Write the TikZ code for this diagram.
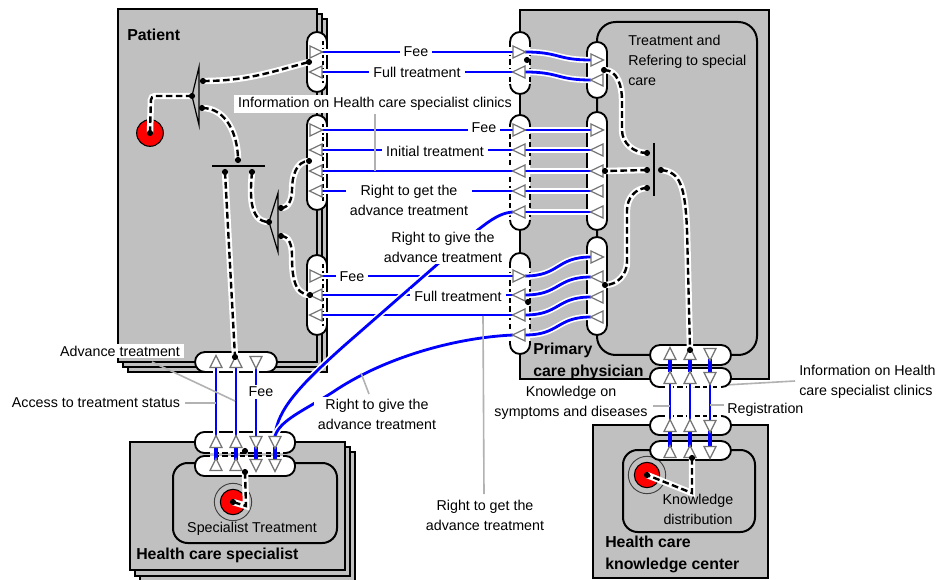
\documentclass[tikz,border=0pt]{standalone}
\usepackage{fontspec}
\setmainfont{Liberation Sans}
\definecolor{boxgray}{RGB}{192,192,192}
\definecolor{flowblue}{RGB}{0,0,255}
\definecolor{leadgray}{RGB}{178,178,178}
\newcommand\lbfont{\fontsize{10.7}{15}\selectfont}
\newcommand\bdfont{\fontsize{11.9}{16.5}\selectfont\bfseries}
\tikzset{
 box/.style={fill=boxgray,draw=black,line width=1.5pt},
 innerbox/.style={fill=boxgray,draw=black,line width=1.5pt,rounded corners=14pt},
 portline/.style={draw=black,line width=1.4pt},
 tri/.style={fill=white,draw=black!55,line width=0.9pt},
 flow/.style={draw=flowblue,line width=2.1pt,preaction={draw=white,line width=4.6pt}},
 shortflow/.style={draw=flowblue,line width=2.8pt},
 ctrl/.style={draw=black,line width=1.8pt,dash pattern=on 5pt off 2.5pt,preaction={draw=white,line width=4.8pt,solid}},
 leader/.style={draw=leadgray,line width=1.2pt},
 bar/.style={draw=black,line width=0.9pt},
 lbl/.style={font=\lbfont,inner sep=1.5pt,align=center},
 wlbl/.style={lbl,fill=white,inner xsep=3pt},
 blbl/.style={font=\bdfont,inner sep=1.5pt,align=left,anchor=west},
 tR/.pic={\draw[tri] (-6,-6) -- (6.5,0) -- (-6,6) -- cycle;},
 tL/.pic={\draw[tri] (6,-6) -- (-6.5,0) -- (6,6) -- cycle;},
 tU/.pic={\draw[tri] (-6,5.5) -- (0,-6.5) -- (6,5.5) -- cycle;},
 tD/.pic={\draw[tri] (-6,-5.5) -- (0,6.5) -- (6,-5.5) -- cycle;}
}
\newcommand\jdot[2]{\fill[black] (#1,#2) circle[radius=2.3pt];}
\newcommand\pport[4]{\draw[portline,fill=white,rounded corners=7.5pt] (#1,#2) rectangle (#3,#4);
 \draw[black,line width=1pt,dash pattern=on 3pt off 2pt] (#3-4,#2+9) -- (#3-4,#4-9);}
\newcommand\qport[4]{\fill[white,rounded corners=7.5pt] (#1,#2) rectangle (#3,#4);
 \draw[portline,rounded corners=7.5pt] (#1,#2+10) -- (#1,#2) -- (#3,#2) -- (#3,#2+10);
 \draw[portline,rounded corners=7.5pt] (#1,#4-10) -- (#1,#4) -- (#3,#4) -- (#3,#4-10);
 \draw[portline,dash pattern=on 4pt off 2.5pt] (#1,#2+10) -- (#1,#4-10) (#3,#2+10) -- (#3,#4-10);}
\newcommand\rport[4]{\draw[portline,fill=white,rounded corners=7.5pt] (#1,#2) rectangle (#3,#4);}
\newcommand\hpillDB[4]{\fill[white,rounded corners=7pt] (#1,#2) rectangle (#3,#4);
 \draw[portline,rounded corners=7pt] (#1+10,#4) -- (#1,#4) -- (#1,#2) -- (#3,#2) -- (#3,#4) -- (#3-10,#4);
 \draw[portline,dash pattern=on 4pt off 2.5pt] (#1+10,#4) -- (#3-10,#4);}
\newcommand\hpillDT[4]{\fill[white,rounded corners=7pt] (#1,#2) rectangle (#3,#4);
 \draw[portline,rounded corners=7pt] (#1+10,#2) -- (#1,#2) -- (#1,#4) -- (#3,#4) -- (#3,#2) -- (#3-10,#2);
 \draw[portline,dash pattern=on 4pt off 2.5pt] (#1+10,#2) -- (#3-10,#2);}
\begin{document}
\begin{tikzpicture}[x=0.75pt,y=-0.75pt]
\fill[white] (0,0) rectangle (938,580);
\useasboundingbox (0,0) rectangle (938,580);
% ---- participant boxes
\draw[box] (128,19) rectangle (327,372);
\draw[box] (123,14) rectangle (322,367);
\draw[box] (118,9) rectangle (317,362);
\draw[box] (140,452) rectangle (355,584);
\draw[box] (135,447) rectangle (350,576);
\draw[box] (130,442) rectangle (345,570);
\draw[innerbox,rounded corners=11pt] (173,463) rectangle (337,543);
\draw[box] (520,10) rectangle (769,379);
\draw[innerbox] (597,22) rectangle (757,355);
\draw[box] (593,425) rectangle (768,578);
\draw[innerbox,rounded corners=11pt] (623,450) rectangle (755,532);
% ---- activities (red)
\draw[fill=red,line width=0.8pt] (150,133) circle[radius=10pt];
\draw[black!75,line width=0.7pt] (233,502) circle[radius=14pt];
\draw[fill=red,line width=0.8pt] (233,502) circle[radius=9.5pt];
\draw[black!75,line width=0.7pt] (647,475) circle[radius=14pt];
\draw[fill=red,line width=0.8pt] (647,475) circle[radius=9.5pt];
% leader under port
\draw[leader] (795,381) -- (690,387);
% ---- ports
\pport{307}{32}{327}{92}
\pport{307}{115}{327}{210}
\pport{307}{255}{327}{335}
\qport{510}{32}{530}{94}
\qport{510}{115}{530}{230}
\qport{510}{253}{530}{354}
\rport{587}{42}{607}{98}
\rport{587}{112}{607}{230}
\rport{587}{237}{607}{335}
\draw[portline,fill=white,rounded corners=7.5pt] (195,352) rectangle (277,372);
\hpillDB{195}{432}{295}{453}
\hpillDT{195}{456}{295}{476}
\draw[portline,fill=white,rounded corners=7.5pt] (650,345) rectangle (731,365);
\hpillDB{650}{368}{731}{387}
\hpillDT{650}{416}{731}{435}
\draw[portline,fill=white,rounded corners=7.5pt] (650,441) rectangle (731,460);
% ---- flows
\foreach \y in {52,72,130,150,171,191,276,295,315} \draw[flow] (322,\y) -- (513,\y);
\draw[flow] (525,52) .. controls (560,52) and (556,60) .. (591,60);
\draw[flow] (525,72) .. controls (560,72) and (556,80) .. (591,80);
\foreach \y in {130,150,171,191,212} \draw[flow] (525,\y) -- (591,\y);
\draw[flow] (525,276) .. controls (560,276) and (556,257) .. (591,257);
\draw[flow] (525,295) .. controls (560,295) and (556,277) .. (591,277);
\draw[flow] (525,315) .. controls (560,315) and (556,297) .. (591,297);
\draw[flow] (525,335) .. controls (560,335) and (556,317) .. (591,317);
\draw[flow] (513,212) .. controls (495,213) and (480,228) .. (440,262) -- (345,345) .. controls (300,385) and (277,410) .. (275,436);
\draw[flow] (513,335) .. controls (450,338) and (380,360) .. (333,392) .. controls (305,410) and (280,420) .. (275,436);
\foreach \x in {216,236,256} \draw[flow] (\x,367) -- (\x,437);
\foreach \x in {216,236,256,275} \draw[shortflow] (\x,447) -- (\x,460);
\foreach \x in {670,690,710} {\draw[shortflow] (\x,359) -- (\x,372); \draw[flow] (\x,383) -- (\x,421); \draw[shortflow] (\x,431) -- (\x,447);}
% ---- leaders
\draw[leader] (375,114) -- (375,171);
\draw[leader] (483,316) -- (484,494);
\draw[leader] (152,362) -- (235,401);
\draw[leader] (185,403) -- (216,403);
\draw[leader] (361,373) -- (369,394);
\draw[leader] (653,406) -- (670,406);
\draw[leader] (710,405) -- (724,405);
% ---- control (dashed) links
\draw[ctrl,rounded corners=3pt] (150,133) -- (151,96) -- (192,96);
\draw[ctrl] (203,81) to[out=0,in=195] (309,62);
\draw[ctrl] (202,108) to[out=0,in=90] (238,160);
\draw[ctrl] (225,172) -- (235,357);
\draw[ctrl] (252,172) to[out=-95,in=180] (269,222);
\draw[ctrl] (281,208) to[out=0,in=-90] (292,190) to[out=90,in=180] (309,161);
\draw[ctrl] (281,236) to[out=0,in=90] (292,255) to[out=-90,in=180] (310,295);
\draw[ctrl] (604,70) to[out=0,in=90] (622,100) -- (622,130) to[out=-90,in=180] (647,153);
\draw[ctrl] (647,170) -- (605,171);
\draw[ctrl] (647,188) to[out=180,in=90] (627,210) -- (627,262) to[out=-90,in=0] (605,285);
\draw[ctrl] (661,170) .. controls (680,172) and (685,185) .. (687,230) -- (690,350);
\draw[ctrl] (245,472) -- (246,506) -- (233,502);
\draw[ctrl] (692,458) -- (692,493) -- (647,475);
% ---- forks / joins
\draw[bar] (199,67) -- (192,96) -- (199,125) -- cycle;
\draw[bar] (278,193) -- (269,222) -- (278,252) -- cycle;
\draw[bar] (212,166) -- (265,166);
\draw[bar] (654,143) -- (654,196);
% ---- triangles
\pic at (316,52) {tR}; \pic at (316,72) {tL};
\pic at (316,130) {tR};
\foreach \y in {150,171,191} \pic at (316,\y) {tL};
\pic at (316,276) {tR}; \pic at (316,295) {tL}; \pic at (316,315) {tL};
\pic at (519,52) {tR}; \pic at (519,72) {tL};
\pic at (519,130) {tR};
\foreach \y in {150,171,191,212} \pic at (519,\y) {tL};
\pic at (519,276) {tR};
\foreach \y in {295,315,335} \pic at (519,\y) {tL};
\pic at (597,60) {tR}; \pic at (597,80) {tL};
\pic at (597,130) {tR};
\foreach \y in {150,171,191,212} \pic at (597,\y) {tL};
\pic at (597,257) {tR};
\foreach \y in {277,297,317} \pic at (597,\y) {tL};
\foreach \y in {362,442,465} {\pic at (216,\y) {tU}; \pic at (236,\y) {tU}; \pic at (256,\y) {tD};}
\pic at (275,442) {tD}; \pic at (275,465) {tD};
\foreach \y in {354,378,426,452} {\pic at (670,\y) {tU}; \pic at (690,\y) {tU}; \pic at (710,\y) {tD};}
% ---- dots
\jdot{150}{133}\jdot{192}{96}\jdot{203}{81}\jdot{202}{108}\jdot{309}{62}
\jdot{238}{160}\jdot{225}{172}\jdot{252}{172}\jdot{269}{222}\jdot{281}{208}
\jdot{281}{236}\jdot{309}{161}\jdot{310}{295}\jdot{235}{357}
\jdot{604}{70}\jdot{647}{153}\jdot{647}{170}\jdot{647}{188}\jdot{661}{170}
\jdot{605}{171}\jdot{605}{285}\jdot{690}{350}\jdot{245}{451}\jdot{245}{472}
\jdot{692}{458}\jdot{527}{60}\jdot{528}{302}\jdot{233}{502}\jdot{647}{475}
% ---- labels
\node[blbl] (patient) at (125,35) {Patient};
\node[lbl,anchor=west,align=left] (trt) at (626,60) {Treatment and\\Refering to special\\care};
\node[wlbl] (fee1) at (416,52) {Fee};
\node[wlbl] (full1) at (417,72) {Full treatment};
\node[wlbl] (info1) at (375,104) {Information on Health care specialist clinics};
\node[wlbl] (fee2) at (484,128) {Fee};
\node[wlbl] (init) at (435,151) {Initial treatment};
\node[wlbl] (rget1) at (409,200) {Right to get the\\advance treatment};
\node[wlbl] (rgive1) at (443,247) {Right to give the\\advance treatment};
\node[wlbl] (fee3) at (352,277) {Fee};
\node[wlbl] (full2) at (458,296) {Full treatment};
\node[lbl] (rget2) at (485,515) {Right to get the\\advance treatment};
\node[wlbl] (rgive2) at (377,414) {Right to give the\\advance treatment};
\node[wlbl] (adv) at (120,351) {Advance treatment};
\node[lbl] (acc) at (96,403) {Access to treatment status};
\node[wlbl] (fee4) at (261,392) {Fee};
\node[lbl] (spt) at (252,529) {Specialist Treatment};
\node[blbl] (hcs) at (134,555) {Health care specialist};
\node[blbl] (pcp) at (531,361) {Primary\\care physician};
\node[lbl] (know) at (571,403) {Knowledge on\\symptoms and diseases};
\node[lbl,anchor=west] (reg) at (725,410) {Registration};
\node[lbl,anchor=west,align=left] (info2) at (797,382) {Information on Health\\care specialist clinics};
\node[lbl] (kdist) at (698,509) {Knowledge\\distribution};
\node[blbl] (kc) at (603,554) {Health care\\knowledge center};
\end{tikzpicture}
\end{document}
